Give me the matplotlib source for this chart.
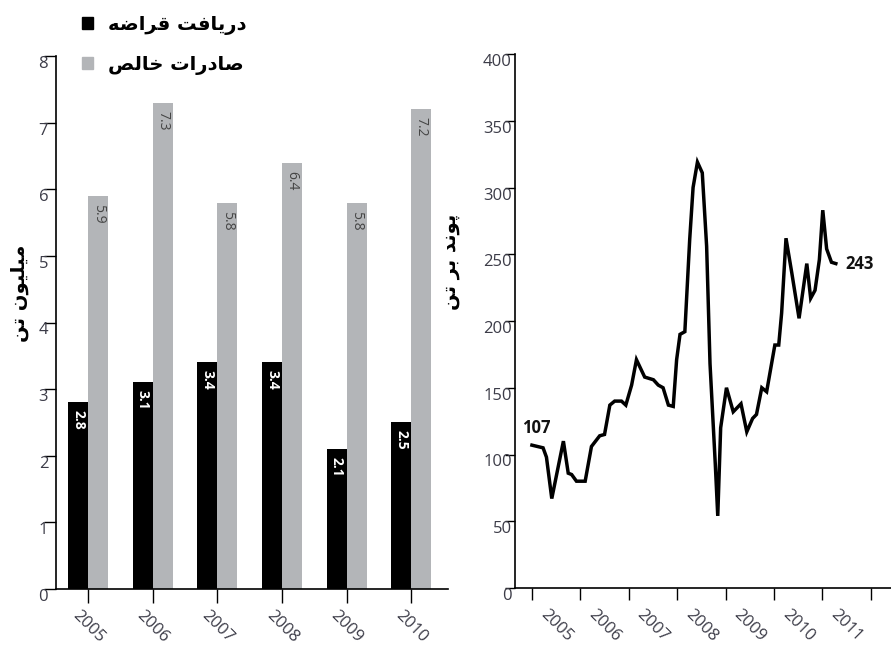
import matplotlib
matplotlib.use("Agg")
import matplotlib.pyplot as plt
from matplotlib.patches import Patch

# bar chart: scrap intake vs net exports (million tonnes)
years = ["2005", "2006", "2007", "2008", "2009", "2010"]
scrap_intake = [2.8, 3.1, 3.4, 3.4, 2.1, 2.5]
net_exports = [5.9, 7.3, 5.8, 6.4, 5.8, 7.2]

# line chart: scrap price (pounds per tonne)
price_dates = [2005.00, 2005.23, 2005.30, 2005.41, 2005.65, 2005.75, 2005.82, 2005.92,
               2006.10, 2006.23, 2006.40, 2006.50, 2006.61, 2006.71, 2006.85, 2006.94,
               2007.06, 2007.16, 2007.33, 2007.51, 2007.61, 2007.71, 2007.82, 2007.92,
               2007.99, 2008.06, 2008.16, 2008.26, 2008.33, 2008.42, 2008.52, 2008.61,
               2008.68, 2008.79, 2008.84, 2008.90, 2009.02, 2009.16, 2009.32, 2009.44,
               2009.56, 2009.64, 2009.75, 2009.85, 2010.02, 2010.10, 2010.16, 2010.25,
               2010.37, 2010.52, 2010.68, 2010.76, 2010.85, 2010.94, 2011.01, 2011.09,
               2011.19, 2011.28]
price_values = [107, 105, 98, 67, 110, 86, 85, 80,
                80, 106, 114, 115, 137, 140, 140, 137,
                152, 171, 158, 156, 152, 150, 137, 136,
                171, 190, 192, 261, 300, 319, 311, 256,
                168, 92, 54, 120, 150, 132, 138, 117,
                127, 130, 150, 147, 182, 182, 206, 262,
                236, 202, 243, 217, 223, 246, 283, 254,
                244, 243]
price_years = ["2005", "2006", "2007", "2008", "2009", "2010", "2011"]

# Persian labels
legend_intake = "دریافت قراضه"
legend_exports = "صادرات خالص"
left_ylabel = "میلیون تن"
right_ylabel = "پوند بر تن"

# presentation forms: isolated, final, initial, medial
FORMS = {
    "ا": (0xFE8D, 0xFE8E, None, None),
    "د": (0xFEA9, 0xFEAA, None, None),
    "ر": (0xFEAD, 0xFEAE, None, None),
    "و": (0xFEED, 0xFEEE, None, None),
    "ی": (0xFEEF, 0xFEF0, 0xFEF3, 0xFEF4),
    "ف": (0xFED1, 0xFED2, 0xFED3, 0xFED4),
    "ت": (0xFE95, 0xFE96, 0xFE97, 0xFE98),
    "ق": (0xFED5, 0xFED6, 0xFED7, 0xFED8),
    "ض": (0xFEBD, 0xFEBE, 0xFEBF, 0xFEC0),
    "ه": (0xFEE9, 0xFEEA, 0xFEEB, 0xFEEC),
    "ص": (0xFEB9, 0xFEBA, 0xFEBB, 0xFEBC),
    "خ": (0xFEA5, 0xFEA6, 0xFEA7, 0xFEA8),
    "ل": (0xFEDD, 0xFEDE, 0xFEDF, 0xFEE0),
    "م": (0xFEE1, 0xFEE2, 0xFEE3, 0xFEE4),
    "ن": (0xFEE5, 0xFEE6, 0xFEE7, 0xFEE8),
    "ب": (0xFE8F, 0xFE90, 0xFE91, 0xFE92),
    "پ": (0xFB56, 0xFB57, 0xFB58, 0xFB59),
}


def shape(text):
    # join letters and flip to visual order, since matplotlib has no bidi
    out = []
    for i, ch in enumerate(text):
        f = FORMS.get(ch)
        if f is None:
            out.append(ch)
            continue
        prev = text[i - 1] if i > 0 else ""
        nxt = text[i + 1] if i + 1 < len(text) else ""
        joins_prev = prev in FORMS and FORMS[prev][2] is not None
        joins_next = f[2] is not None and nxt in FORMS
        if joins_prev and joins_next:
            idx = 3
        elif joins_prev:
            idx = 1
        elif joins_next:
            idx = 2
        else:
            idx = 0
        out.append(chr(f[idx]))
    return "".join(reversed(out))


plt.rcParams["font.family"] = ["Open Sans", "DejaVu Sans"]
tick_color = "#3c3c48"
gray = "#b3b5b8"

fig = plt.figure(figsize=(8.91, 6.46), dpi=100)
ax1 = fig.add_axes([56 / 891, 1 - 589 / 646, 392 / 891, 533 / 646])
ax2 = fig.add_axes([515 / 891, 1 - 588 / 646, 376 / 891, 534 / 646])

# --- left: bars ---
x = list(range(len(years)))
w = 0.31
ax1.bar([i - w / 2 for i in x], scrap_intake, width=w, color="black")
ax1.bar([i + w / 2 for i in x], net_exports, width=w, color=gray)

for i in x:
    ax1.text(i - w / 2, scrap_intake[i] - 0.12, f"{scrap_intake[i]}", rotation=270,
             ha="center", va="top", color="white", fontsize=10, fontweight="bold")
    ax1.text(i + w / 2, net_exports[i] - 0.12, f"{net_exports[i]}", rotation=270,
             ha="center", va="top", color="#454545", fontsize=10)

ax1.set_xlim(-0.5, 5.57)
ax1.set_ylim(0, 8)
ax1.set_yticks(range(0, 9))
ax1.set_xticks(x)
ax1.set_xticklabels(years, rotation=-45, ha="center", va="top")
ax1.tick_params(axis="y", direction="out", length=8.6, width=1, pad=-3,
                colors="black", labelcolor=tick_color, labelsize=12)
ax1.tick_params(axis="x", direction="out", length=10, width=1, pad=3,
                colors="black", labelcolor=tick_color, labelsize=12)
plt.setp(ax1.get_yticklabels(), va="top")

ax1.set_ylabel(shape(left_ylabel), family="DejaVu Sans", fontsize=14, fontweight="bold")
ax1.yaxis.set_label_coords(-0.07, 0.555)

# --- right: price line ---
ax2.plot(price_dates, price_values, color="black", lw=2.5, solid_joinstyle="miter")
ax2.annotate(f"{price_values[0]}", xy=(price_dates[0], price_values[0]),
             xytext=(-10, 8), textcoords="offset pixels", ha="left", va="bottom",
             fontsize=12, fontweight="bold", color="#111111")
ax2.annotate(f"{price_values[-1]}", xy=(price_dates[-1], price_values[-1]),
             xytext=(10, 0), textcoords="offset pixels", ha="left", va="center",
             fontsize=12, fontweight="bold", color="#111111")

ax2.set_xlim(2004.65, 2012.42)
ax2.set_ylim(0, 400)
ax2.set_yticks(range(0, 401, 50))
ax2.set_xticks([int(y) for y in price_years] + [2012])
ax2.set_xticklabels([])
ax2.set_xticks([int(y) + 0.5 for y in price_years], labels=price_years, minor=True)
plt.setp(ax2.get_xticklabels(minor=True), rotation=-45, ha="center", va="top")
ax2.tick_params(axis="y", direction="out", length=7.2, width=1, pad=-5,
                colors="black", labelcolor=tick_color, labelsize=12)
ax2.tick_params(axis="x", which="major", direction="out", length=8.6, width=1)
ax2.tick_params(axis="x", which="minor", length=0, pad=13,
                labelcolor=tick_color, labelsize=12)
plt.setp(ax2.get_yticklabels(), va="top")

ax2.set_ylabel(shape(right_ylabel), family="DejaVu Sans", fontsize=14, fontweight="bold")
ax2.yaxis.set_label_coords(-0.145, 0.61)

for ax in (ax1, ax2):
    ax.spines["top"].set_visible(False)
    ax.spines["right"].set_visible(False)
    ax.spines["left"].set_linewidth(1.2)
    ax.spines["bottom"].set_linewidth(1.2)
    ax.patch.set_alpha(0)

# legend in the top left corner
handles = [Patch(color="black"), Patch(color=gray)]
leg = fig.legend(handles, [shape(legend_intake), shape(legend_exports)],
                 loc="upper left", bbox_to_anchor=(68 / 891, 1 - 1 / 646),
                 frameon=True, facecolor="white", edgecolor="none", framealpha=1,
                 handlelength=0.6, handleheight=0.6, handletextpad=0.75,
                 labelspacing=1.05, borderpad=0.2,
                 prop={"family": "DejaVu Sans", "size": 14, "weight": "bold"})

fig.savefig("out.png", dpi=100)
